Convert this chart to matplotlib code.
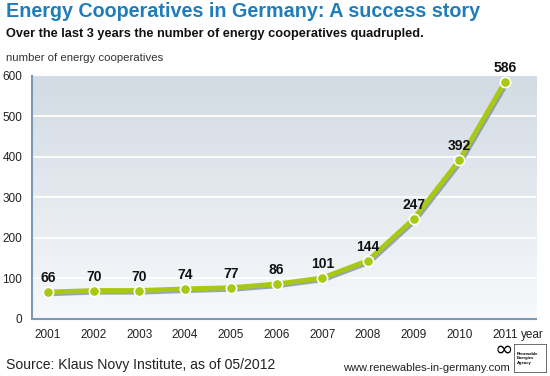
import matplotlib
matplotlib.use("Agg")
import matplotlib.pyplot as plt
import matplotlib.patheffects as pe
import numpy as np

years = [2001, 2002, 2003, 2004, 2005, 2006, 2007, 2008, 2009, 2010, 2011]
coops = [66, 70, 70, 74, 77, 86, 101, 144, 247, 392, 586]
y_ticks = [0, 100, 200, 300, 400, 500, 600]

title = "Energy Cooperatives in Germany: A success story"
subtitle = "Over the last 3 years the number of energy cooperatives quadrupled."
ylabel = "number of energy cooperatives"
source = "Source: Klaus Novy Institute, as of 05/2012"
url = "www.renewables-in-germany.com"

BLUE = "#1f7dbb"
GREEN = "#a9c814"
plt.rcParams["font.family"] = ["Liberation Sans", "DejaVu Sans"]

fig = plt.figure(figsize=(5.5, 3.76), dpi=100)
fig.patch.set_facecolor("white")
ax = fig.add_axes([0.058, 0.152, 0.917, 0.646])

xlim = (2000.65, 2011.68)
ax.set_xlim(*xlim)
ax.set_ylim(0, 600)

# vertical gradient background
grad = np.linspace(0, 1, 256).reshape(-1, 1)
cmap = matplotlib.colors.LinearSegmentedColormap.from_list("bg", ["#f7f9fb", "#d2dae3"])
ax.imshow(grad, extent=[xlim[0], xlim[1], 0, 600], origin="lower", aspect="auto",
          cmap=cmap, zorder=0)

for t in y_ticks[1:-1]:
    ax.axhline(t, color="white", lw=1.3, zorder=1)

for s in ["top", "right"]:
    ax.spines[s].set_visible(False)
ax.spines["left"].set_color("#7a9ab5")
ax.spines["bottom"].set_color("#7a9ab5")
ax.spines["left"].set_linewidth(1.5)
ax.spines["bottom"].set_linewidth(1.5)

ax.set_yticks(y_ticks)
ax.set_xticks(years)
ax.tick_params(length=0, labelsize=8.5, colors="#222222", pad=7)
ax.tick_params(axis="y", pad=7)

ax.plot(years, coops, color=GREEN, lw=3.5, zorder=3,
        path_effects=[pe.SimpleLineShadow(offset=(1, -1.2), shadow_color="#6f8496", alpha=0.7),
                      pe.Normal()])
ax.scatter(years, coops, s=55, color=GREEN, edgecolors="white", linewidths=1.2, zorder=4)

for x, v in zip(years, coops):
    ax.annotate(str(v), (x, v), xytext=(0, 5), textcoords="offset points",
                ha="center", va="bottom", fontsize=10, fontweight="bold", color="#111111",
                zorder=5)

fig.text(0.01, 0.995, title, ha="left", va="top", fontsize=14.2, fontweight="bold", color=BLUE)
fig.text(0.01, 0.925, subtitle, ha="left", va="top", fontsize=9.2, fontweight="bold", color="#111111")
fig.text(0.01, 0.858, ylabel, ha="left", va="top", fontsize=8.2, color="#333333")
fig.text(0.948, 0.11, "year", ha="left", va="center", fontsize=8.5, color="#222222")
fig.text(0.01, 0.03, source, ha="left", va="center", fontsize=10.1, color="#222222")
fig.text(0.927, 0.022, url, ha="right", va="center", fontsize=8, color="#222222")

# agency logo
fig.text(0.9, 0.07, "\u221e", ha="left", va="center", fontsize=16, color="black",
         family="DejaVu Sans")
logo = fig.add_axes([0.935, 0.01, 0.058, 0.075])
logo.set_xticks([])
logo.set_yticks([])
for s in logo.spines.values():
    s.set_linewidth(0.6)
    s.set_color("#555555")
logo.text(0.08, 0.5, "Renewable\nEnergies\nAgency", fontsize=3, fontweight="bold",
          va="center", ha="left", transform=logo.transAxes)

fig.savefig("out.png", dpi=100)
